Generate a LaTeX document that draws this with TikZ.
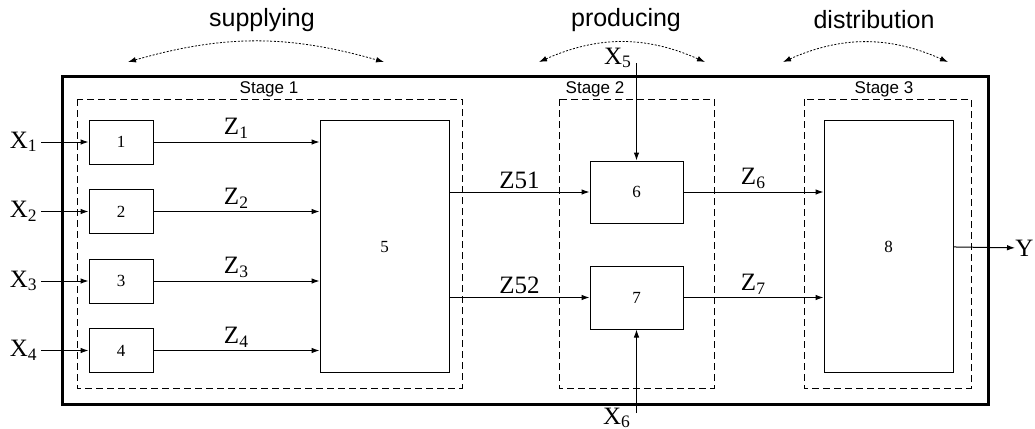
\documentclass[tikz,border=0pt]{standalone}
\usepackage{fontspec}
\setmainfont{Liberation Serif}
\newfontfamily\arialfont{Liberation Sans}
\usetikzlibrary{arrows.meta}

\begin{document}
\begin{tikzpicture}[x=0.5pt,y=-0.5pt,
    blk/.style={draw,line width=0.5pt,inner sep=0pt,font=\fontsize{8.5}{10}\selectfont},
    lab/.style={font=\fontsize{12.5}{15}\selectfont,inner sep=1.5pt},
    stagelab/.style={font=\arialfont\fontsize{8.5}{10}\selectfont,inner sep=0pt},
    phase/.style={font=\arialfont\fontsize{12.5}{15}\selectfont,inner sep=0pt},
    arr/.style={-{Latex[length=4pt,width=2.8pt]},line width=0.5pt},
    stagebox/.style={dash pattern=on 3.5pt off 2pt,line width=0.5pt},
    swing/.style={{Latex[length=4pt,width=2.8pt]}-{Latex[length=4pt,width=2.8pt]},
                  dash pattern=on 1pt off 0.8pt,line width=0.4pt}]

    \useasboundingbox (0,0) rectangle (1035,429);

    % Frame and stages
    \draw[line width=1.5pt] (62,76) rectangle (988,404);
    \draw[stagebox] (77,99) rectangle (462,388);
    \draw[stagebox] (559,99) rectangle (714,388);
    \draw[stagebox] (804,99) rectangle (971,388);
    \node[stagelab] (s1) at (269,89) {Stage 1};
    \node[stagelab] (s2) at (595,89) {Stage 2};
    \node[stagelab] (s3) at (884,89) {Stage 3};

    % Phases
    \node[phase] (sup) at (262,20) {supplying};
    \node[phase] (pro) at (626,20) {producing};
    \node[phase] (dis) at (874,20) {distribution};
    \coordinate (supL) at (128,62); \coordinate (supR) at (384,62);
    \coordinate (proL) at (539,62); \coordinate (proR) at (705,62);
    \coordinate (disL) at (783,62); \coordinate (disR) at (948,62);
    \draw[swing] (supL) to[bend left=16] (supR);
    \draw[swing] (proL) to[bend left=24] (proR);
    \draw[swing] (disL) to[bend left=24] (disR);

    % Blocks
    \foreach \i/\y in {1/142,2/211.5,3/281,4/350.5}
        \node[blk,minimum width=32pt,minimum height=22pt] (b\i) at (121,\y) {\i};
    \node[blk,minimum width=64.5pt,minimum height=126pt] (b5) at (384.5,246) {};
    \node[font=\fontsize{8.5}{10}\selectfont] (n5) at (384.5,247) {5};
    \node[blk,minimum width=46.5pt,minimum height=31pt] (b6) at (636.5,192) {6};
    \node[blk,minimum width=46.5pt,minimum height=31.5pt] (b7) at (636.5,297.5) {7};
    \node[blk,minimum width=64.5pt,minimum height=126pt] (b8) at (888.5,246) {};
    \node[font=\fontsize{8.5}{10}\selectfont] (n8) at (888.5,247) {8};

    % Inputs and flows
    \foreach \i in {1,...,4} {
        \node[lab,anchor=east] (x\i) at (41,{142+69.5*(\i-1)}) {X\textsubscript{\i}};
        \draw[arr] (x\i) -- (b\i);
        \draw[arr] (b\i) -- node[lab,above] {Z\textsubscript{\i}} (b\i -| b5.west);
    }
    \draw[arr] (b5.east |- b6) -- node[lab,above] {Z51} (b6);
    \draw[arr] (b5.east |- b7) -- node[lab,above] {Z52} (b7);
    \draw[arr] (b6) -- node[lab,above] {Z\textsubscript{6}} (b6 -| b8.west);
    \draw[arr] (b7) -- node[lab,above] {Z\textsubscript{7}} (b7 -| b8.west);

    \node[lab] (x5) at (618,58) {X\textsubscript{5}};
    \coordinate (x5in) at (636.5,63);
    \draw[arr] (x5in) -- (b6);
    \node[lab,inner sep=0pt] (x6) at (617,418) {X\textsubscript{6}};
    \coordinate (x6in) at (636.5,413);
    \draw[arr] (x6in) -- (b7);

    \node[lab,anchor=west,inner sep=0pt] (y) at (1015,248) {Y};
    \draw[arr] (b8) -- (y);
\end{tikzpicture}
\end{document}
